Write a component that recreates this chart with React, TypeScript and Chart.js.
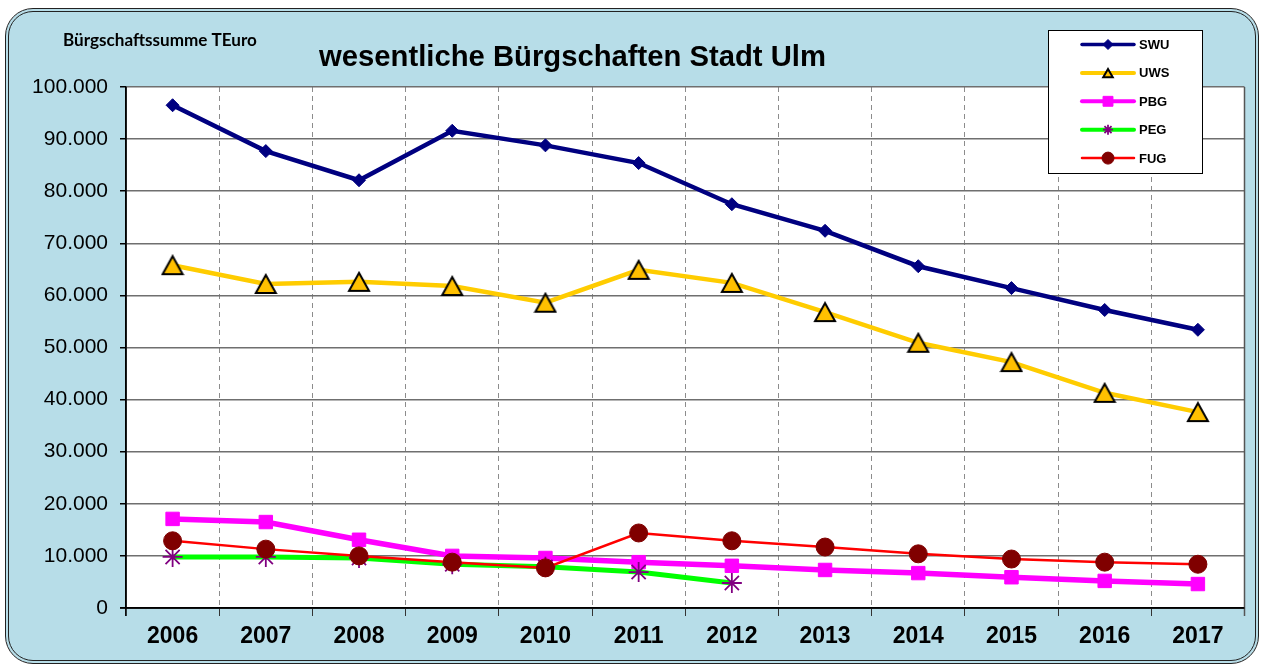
import React, { useEffect, useRef } from 'react';
import { Chart, registerables } from 'chart.js';
import { drawPoint } from 'chart.js/helpers';

Chart.register(...registerables);

const categories = ['2006', '2007', '2008', '2009', '2010', '2011', '2012', '2013', '2014', '2015', '2016', '2017'];
const swu = [96500, 87700, 82100, 91600, 88800, 85400, 77500, 72400, 65600, 61400, 57200, 53400];
const uws = [65800, 62200, 62600, 61800, 58600, 64900, 62400, 56800, 50900, 47200, 41300, 37600];
const pbg = [17100, 16500, 13100, 10000, 9600, 8800, 8100, 7300, 6700, 5900, 5200, 4600];
const peg = [9800, 9800, 9600, 8400, 7900, 6900, 4800, null, null, null, null, null];
const fug = [12900, 11300, 10000, 8800, 7700, 14400, 12900, 11700, 10400, 9400, 8800, 8400];
const seriesNames = ['SWU', 'UWS', 'PBG', 'PEG', 'FUG'];
const yMin = 0;
const yMax = 100000;
const yStep = 10000;
const chartTitle = 'wesentliche Bürgschaften Stadt Ulm';
const yAxisTitle = 'Bürgschaftssumme TEuro';

const ARIAL = '"Liberation Sans", Arial, sans-serif';

const fmt = (v: number) => (v === 0 ? '0' : String(v).replace(/\B(?=(\d{3})+(?!\d))/g, '.'));

const makeTriangle = (w: number, h: number, lw: number, fill: string) => {
  const c = document.createElement('canvas');
  c.width = w;
  c.height = h;
  const g = c.getContext('2d')!;
  g.beginPath();
  g.moveTo(w / 2, lw);
  g.lineTo(w - lw, h - lw);
  g.lineTo(lw, h - lw);
  g.closePath();
  g.fillStyle = fill;
  g.fill();
  g.lineWidth = lw;
  g.lineJoin = 'miter';
  g.strokeStyle = '#000';
  g.stroke();
  return c;
};

const styles = [
  { line: '#000080', lw: 4.5, ps: 'rectRot', r: 6.5, fill: '#000080', stroke: '#000080', bw: 1, lgR: 5, lgLw: 3.5 },
  { line: '#FFCC00', lw: 4.5, ps: 'triangle', r: 12, fill: '#FFC000', stroke: '#000000', bw: 2, lgR: 5.5, lgLw: 4 },
  { line: '#FF00FF', lw: 5.5, ps: 'rect', r: 9.5, fill: '#FF00FF', stroke: '#FF00FF', bw: 1, lgR: 7, lgLw: 4 },
  { line: '#00FF00', lw: 5, ps: 'star', r: 10, fill: '#800080', stroke: '#800080', bw: 1.8, lgR: 5, lgLw: 4 },
  { line: '#FF0000', lw: 2.5, ps: 'circle', r: 9, fill: '#800000', stroke: '#800000', bw: 1, lgR: 6, lgLw: 2.5 },
];

const fitFont = (ctx: CanvasRenderingContext2D, text: string, weight: string, family: string, width: number) => {
  ctx.font = `${weight} 100px ${family}`;
  const w = ctx.measureText(text).width;
  return (100 * width) / w;
};

const deco = {
  id: 'deco',
  beforeDraw(chart: any) {
    const { ctx, chartArea: a } = chart;
    ctx.save();
    ctx.fillStyle = '#ffffff';
    ctx.fillRect(a.left, a.top, a.right - a.left, a.bottom - a.top);
    ctx.restore();
  },
  beforeDatasetsDraw(chart: any) {
    const { ctx, chartArea: a } = chart;
    ctx.save();
    ctx.strokeStyle = '#555555';
    ctx.lineWidth = 1.5;
    ctx.beginPath();
    ctx.moveTo(a.right, a.top);
    ctx.lineTo(a.right, a.bottom + 8);
    ctx.stroke();
    ctx.strokeStyle = '#000000';
    ctx.beginPath();
    ctx.moveTo(a.left, a.top);
    ctx.lineTo(a.left, a.bottom + 8);
    ctx.moveTo(a.left - 6, a.bottom);
    ctx.lineTo(a.right, a.bottom);
    ctx.stroke();
    ctx.restore();
  },
  afterDraw(chart: any) {
    const { ctx } = chart;
    ctx.save();
    const ts = fitFont(ctx, chartTitle, 'bold', ARIAL, 507);
    ctx.font = `bold ${ts}px ${ARIAL}`;
    ctx.fillStyle = '#000';
    ctx.textAlign = 'center';
    ctx.textBaseline = 'alphabetic';
    ctx.fillText(chartTitle, 572.5, 66);
    const ys = fitFont(ctx, yAxisTitle, 'bold', 'Lato, "Open Sans", sans-serif', 194);
    ctx.font = `bold ${ys}px Lato, "Open Sans", sans-serif`;
    ctx.textAlign = 'left';
    ctx.fillText(yAxisTitle, 63, 46);
    const lx = 1048, ly = 30, lw = 154, lh = 143;
    ctx.fillStyle = '#fff';
    ctx.fillRect(lx, ly, lw, lh);
    ctx.strokeStyle = '#000';
    ctx.lineWidth = 1;
    ctx.strokeRect(lx + 0.5, ly + 0.5, lw, lh);
    seriesNames.forEach((name, i) => {
      const s = styles[i];
      const y = 44.5 + i * 28.4;
      ctx.strokeStyle = s.line;
      ctx.lineWidth = s.lgLw;
      ctx.lineCap = 'round';
      ctx.beginPath();
      ctx.moveTo(1082, y);
      ctx.lineTo(1134, y);
      ctx.stroke();
      ctx.lineCap = 'butt';
      ctx.fillStyle = s.fill;
      ctx.strokeStyle = s.stroke;
      ctx.lineWidth = s.bw;
      drawPoint(ctx, { pointStyle: s.ps as any, radius: s.lgR, borderWidth: s.bw, rotation: 0 } as any, 1108, s.ps === 'triangle' ? y + 1.5 : y);
      ctx.fillStyle = '#000';
      ctx.font = `bold 13px ${ARIAL}`;
      ctx.textAlign = 'left';
      ctx.textBaseline = 'middle';
      ctx.fillText(name, 1139, y + 1);
    });
    ctx.restore();
  },
};

export default function App() {
  const ref = useRef<HTMLCanvasElement>(null);
  useEffect(() => {
    if (!ref.current) return;
    const data = [swu, uws, pbg, peg, fug];
    const tri = makeTriangle(24, 22, 2, '#FFC000');
    const chart = new Chart(ref.current, {
      type: 'line',
      data: {
        labels: categories,
        datasets: seriesNames.map((name, i) => ({
          label: name,
          data: data[i] as any,
          borderColor: styles[i].line,
          borderWidth: styles[i].lw,
          backgroundColor: styles[i].fill,
          pointStyle: (styles[i].ps === 'triangle' ? tri : styles[i].ps) as any,
          pointRadius: styles[i].r,
          pointBackgroundColor: styles[i].fill,
          pointBorderColor: styles[i].stroke,
          pointBorderWidth: styles[i].bw,
          tension: 0,
          spanGaps: false,
          fill: false,
          order: 4 - i,
        })),
      },
      options: {
        responsive: false,
        animation: false,
        devicePixelRatio: 1,
        layout: { padding: { top: 87, right: 16.5, left: 0, bottom: 0 } },
        plugins: { legend: { display: false }, title: { display: false }, tooltip: { enabled: false } },
        scales: {
          x: {
            type: 'category',
            offset: true,
            grid: {
              offset: true,
              color: '#8c8c8c',
              lineWidth: 1,
              drawTicks: true,
              tickLength: 8,
              tickColor: '#333',
              tickBorderDash: [],
            },
            border: { display: true, color: '#000', width: 1.5, dash: [5, 4] },
            ticks: {
              color: '#000',
              font: { family: ARIAL, size: 23, weight: 'bold' },
              padding: 7,
              maxRotation: 0,
              autoSkip: false,
            },
            afterFit: (s: any) => { s.height = 57; },
          } as any,
          y: {
            min: yMin,
            max: yMax,
            grid: { color: '#6f6f6f', lineWidth: 1.5, tickLength: 6, tickColor: '#000' },
            border: { display: true, color: '#000', width: 1.5 },
            ticks: {
              stepSize: yStep,
              callback: (v: any) => fmt(Number(v)),
              color: '#000',
              font: { family: ARIAL, size: 21 },
              padding: 12,
            },
            afterFit: (s: any) => { s.width = 126; },
          } as any,
        },
      },
      plugins: [deco],
    });
    return () => chart.destroy();
  }, []);

  return (
    <div style={{ position: 'fixed', left: 0, top: 0, width: 1261, height: 665 }}>
      <div
        style={{
          position: 'absolute',
          left: 5,
          top: 8,
          width: 1254,
          height: 656,
          boxSizing: 'border-box',
          background: '#B7DDE8',
          border: '4px double #222',
          borderRadius: 28,
        }}
      />
      <canvas ref={ref} width={1261} height={665} style={{ position: 'absolute', left: 0, top: 0 }} />
    </div>
  );
}
